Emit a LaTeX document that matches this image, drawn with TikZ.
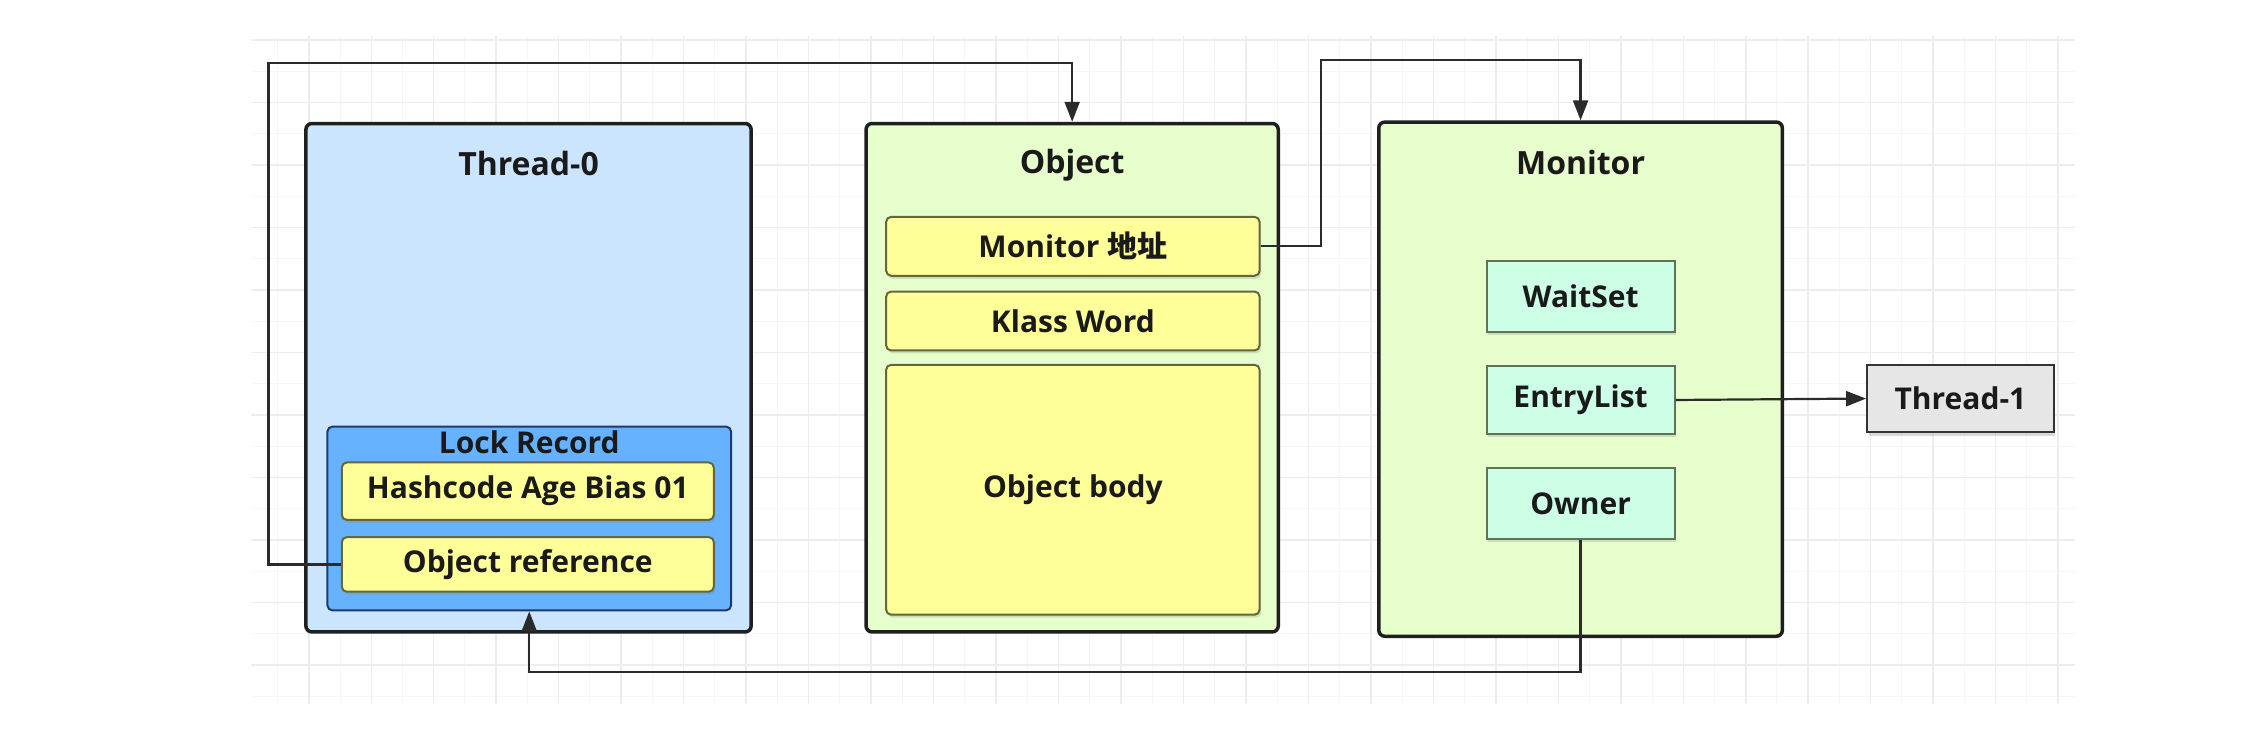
\documentclass[tikz,border=0pt]{standalone}
\usepackage{fontspec}
\setmainfont{Open Sans}
\newfontfamily\cjk{Noto Sans CJK SC Bold}
\usetikzlibrary{arrows.meta,shadows}
\definecolor{tblue}{HTML}{CCE5FF}
\definecolor{lrblue}{HTML}{66B2FF}
\definecolor{lrborder}{HTML}{1F3A66}
\definecolor{yel}{HTML}{FFFF99}
\definecolor{yelborder}{HTML}{66663D}
\definecolor{grn}{HTML}{E6FFCC}
\definecolor{mint}{HTML}{CCFFE6}
\definecolor{mintborder}{HTML}{5F7359}
\definecolor{lgray}{HTML}{E6E6E6}
\definecolor{txt}{HTML}{1A1A1A}
\definecolor{conncol}{HTML}{2B2B2B}
\begin{document}
\begin{tikzpicture}[x=1.4362pt,y=-1.4362pt,
  every node/.style={font=\fontsize{30}{36}\selectfont\bfseries, text=txt},
  outerbox/.style={draw=black!88, line width=3.5pt, rounded corners=6pt, inner sep=0pt},
  yelbox/.style={fill=yel, draw=yelborder, line width=2pt, rounded corners=5pt, inner sep=0pt,
    drop shadow={opacity=0.25, shadow xshift=1.5pt, shadow yshift=-3pt}},
  mintbox/.style={fill=mint, draw=mintborder, line width=2pt, inner sep=0pt,
    drop shadow={opacity=0.25, shadow xshift=1.5pt, shadow yshift=-3pt}},
  lrbox/.style={fill=lrblue, draw=lrborder, line width=2pt, rounded corners=5pt, inner sep=0pt},
  graybox/.style={fill=lgray, draw=black!80, line width=2pt, inner sep=0pt,
    drop shadow={opacity=0.3, shadow xshift=1.5pt, shadow yshift=-4pt}},
  titletext/.style={inner sep=0pt, font=\fontsize{32}{38}\selectfont\bfseries},
  lrtext/.style={inner sep=0pt},
  conn/.style={draw=conncol, line width=2.2pt, -{Triangle[length=20pt,width=15pt]}},
  gridmajor/.style={draw=black!7, line width=1.5pt},
  gridminor/.style={draw=black!3.5, line width=1pt}]
\useasboundingbox (0,0) rectangle (1568,518);
\fill[white] (0,0) rectangle (1568,518);
% faint grid
\begin{scope}
  \clip (175,25) rectangle (1445,490);
  \foreach \i in {0,...,60} {
    \draw[gridminor] ({149.75+21.75*\i},25) -- ++(0,465);
  }
  \foreach \i in {0,...,22} {
    \draw[gridminor] (175,{6.15+21.75*\i}) -- ++(1270,0);
  }
  \foreach \i in {0,...,30} {
    \draw[gridmajor] ({128+43.5*\i},25) -- ++(0,465);
  }
  \foreach \i in {0,...,11} {
    \draw[gridmajor] (175,{27.9+43.5*\i}) -- ++(1270,0);
  }
\end{scope}

% Thread-0
\node[outerbox, fill=tblue, minimum width=310*1.4362pt, minimum height=354*1.4362pt] (t0) at (368,263) {};
\node[titletext] (t0t) at (368,114) {Thread-0};
\node[lrbox, minimum width=281*1.4362pt, minimum height=128*1.4362pt] (lr) at (368.5,361) {};
\node[lrtext] (lrt) at (368.5,308) {Lock Record};
\node[yelbox, minimum width=259*1.4362pt, minimum height=40*1.4362pt] (hc) at (367.5,342) {Hashcode Age Bias 01};
\node[yelbox, minimum width=259*1.4362pt, minimum height=38*1.4362pt] (or) at (367.5,393) {Object reference};

% Object
\node[outerbox, fill=grn, minimum width=287*1.4362pt, minimum height=354*1.4362pt] (ob) at (746.5,263) {};
\node[titletext] (obt) at (746.5,115) {Object};
\node[yelbox, minimum width=260*1.4362pt, minimum height=41*1.4362pt] (ma) at (747,171.5) {Monitor {\cjk 地址}};
\node[yelbox, minimum width=260*1.4362pt, minimum height=41*1.4362pt] (kw) at (747,223.5) {Klass Word};
\node[yelbox, minimum width=260*1.4362pt, minimum height=174*1.4362pt] (bd) at (747,341) {Object body};

% Monitor
\node[outerbox, fill=grn, minimum width=281*1.4362pt, minimum height=358*1.4362pt] (mo) at (1100.5,264) {};
\node[titletext] (mot) at (1100.5,113) {Monitor};
\node[mintbox, minimum width=131*1.4362pt, minimum height=49*1.4362pt] (ws) at (1100.5,206.5) {WaitSet};
\node[mintbox, minimum width=131*1.4362pt, minimum height=47*1.4362pt] (el) at (1100.5,278.5) {EntryList};
\node[mintbox, minimum width=131*1.4362pt, minimum height=49*1.4362pt] (ow) at (1100.5,350.5) {Owner};

% Thread-1
\node[graybox, minimum width=130*1.4362pt, minimum height=47*1.4362pt] (t1) at (1365,277.5) {Thread-1};

% connectors
\coordinate (c1) at (187,44);
\coordinate (c2) at (920,42);
\coordinate (c3) at (368.5,468);
\draw[conn] (or.west) -| (c1) -| (ob.north);
\draw[conn] (ma.east) -| (c2) -| (mo.north);
\draw[conn] (el.east) -- (t1.west);
\draw[conn] (ow.south) |- (c3) -- (lr.south);
\end{tikzpicture}
\end{document}
